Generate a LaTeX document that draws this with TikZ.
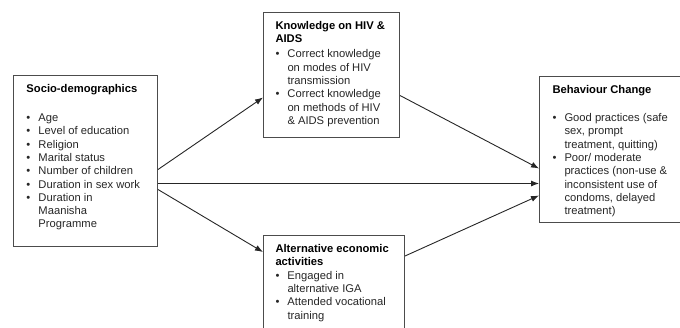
\documentclass[tikz,border=0pt]{standalone}
\usepackage{fontspec}
\setmainfont{Liberation Sans}
\usetikzlibrary{arrows.meta}
\newcommand{\bul}[1]{\par\noindent\hangindent=12pt\hangafter=1\makebox[12pt][l]{\textbullet}#1}
\newcommand{\ttl}[1]{\rule{0pt}{9pt}{\color{black}\textbf{#1}}}
\hbadness=10000 \hfuzz=20pt
\begin{document}
\begin{tikzpicture}[x=1pt,y=1pt,
  box/.style={draw=black!70, line width=1pt, anchor=north west, inner xsep=12pt, inner ysep=8pt,
    font=\fontsize{11.2}{13.3}\selectfont, text=black!85},
  conn/.style={-{Latex[length=8pt,width=6pt]}, line width=0.9pt, draw=black!85}]
\useasboundingbox (0,0) rectangle (680,-327);

\node[box, inner xsep=13pt] (b1) at (13,-75) {\parbox[t][155pt][t]{118pt}{%
  \ttl{Socio-demographics}\par\vspace{15.7pt}%
  \bul{Age}%
  \bul{Level of education}%
  \bul{Religion}%
  \bul{Marital status}%
  \bul{Number of children}%
  \bul{Duration in sex work}%
  \bul{Duration in\\Maanisha\\Programme}}};

\node[box] (b2) at (263,-12) {\parbox[t][109pt][t]{112pt}{%
  \ttl{Knowledge on HIV \&}\\{\color{black}\textbf{AIDS}}\par\vspace{1.7pt}%
  \bul{Correct knowledge\\on modes of HIV\\transmission}%
  \bul{Correct knowledge\\on methods of HIV\\\& AIDS prevention}}};

\node[box] (b3) at (263,-235) {\parbox[t][84pt][t]{117pt}{%
  \ttl{Alternative economic}\\{\color{black}\textbf{activities}}\par%
  \bul{Engaged in\\alternative IGA}%
  \bul{Attended vocational\\training}}};

\node[box, inner xsep=13pt] (b4) at (539,-76) {\parbox[t][130pt][t]{117pt}{%
  \ttl{Behaviour Change}\par\vspace{14.7pt}%
  \bul{Good practices (safe\\sex, prompt\\treatment, quitting)}%
  \bul{Poor/ moderate\\practices (non-use \&\\inconsistent use of\\condoms, delayed\\treatment)}}};

\draw[conn] ([yshift=-8.5pt]b1.east) -- ([yshift=-22.5pt]b2.west);
\draw[conn] ([yshift=-28.5pt]b1.east) -- ([yshift=-17pt]b3.north west);
\draw[conn] ([yshift=-22.5pt]b1.east) -- ([yshift=-34pt]b4.west);
\draw[conn] ([yshift=-20.5pt]b2.east) -- ([yshift=-19pt]b4.west);
\draw[conn] ([yshift=-21pt]b3.north east) -- ([yshift=-46pt]b4.west);
\end{tikzpicture}
\end{document}
